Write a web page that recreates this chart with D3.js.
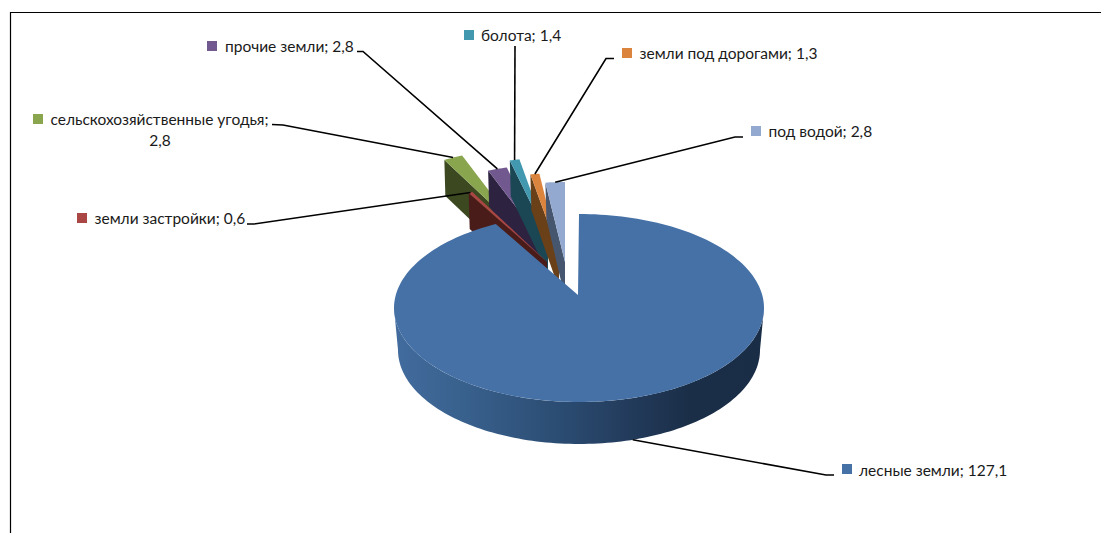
<!DOCTYPE html>
<html><head><meta charset="utf-8">
<script src="https://cdn.jsdelivr.net/npm/d3@7/dist/d3.min.js"></script>
<style>html,body{margin:0;padding:0;background:#fff}svg{display:block}</style>
</head><body><div id="c"></div>
<script>
// ---- data
const categories = ["лесные земли","земли застройки","сельскохозяйственные угодья","прочие земли","болота","земли под дорогами","под водой"];
const values = [127.1,0.6,2.8,2.8,1.4,1.3,2.8];
const colors = ["#4671A7","#AA4643","#89A54E","#71588F","#4198AF","#DB843D","#93A9CF"];
const sideColors = ["#1A2E47","#4A1C19","#3B4820","#2D2340","#1B4653","#6A4019","#46566F"];
// ---- layout
const W=1101,H=533;
const main={cx:579,cy:308,rx:185,ry:94,apexX:578,apexY:295,depth:42,botRx:181,backSquash:0.86,leaderAngle:0.904*Math.PI};
const sliceR={rx:155,ry:80,depth:36};
const pull=[null,[-31,-33],[-59,-65],[-33,-50],[-30,-57],[-19,-42],[-13,-33]];
const labelLayout=[
 {x:859,y:476,sx:842,sy:464,lead:[[834,475],[826,475]]},
 {x:94.5,y:224,sx:77,sy:213,lead:[[247,224],[254,224]]},
 {x:50.5,y:125,sx:33,sy:114,lead:[[272,124.5],[283,125]],wrap:{x:160,y:146}},
 {x:225,y:52,sx:207,sy:41,lead:[[357,51.5],[363,51.5]]},
 {x:481,y:41,sx:464,sy:30,lead:[[515,46]]},
 {x:639.5,y:59,sx:622,sy:48,lead:[[614,58.5],[606,58.5]]},
 {x:768.5,y:137,sx:751,sy:126,lead:[[743,137],[735,137]]}
];
const fontFamily="Lato, 'Noto Sans', sans-serif", fontSize=15.5;

const svg=d3.select("#c").append("svg").attr("width",W).attr("height",H);
svg.append("rect").attr("width",W).attr("height",H).attr("fill","#fff");
svg.append("path").attr("d",`M10.5,533V12.5H${W}`).attr("fill","none").attr("stroke","#000").attr("stroke-width",1.2);

const defs=svg.append("defs");
const grad=defs.append("linearGradient").attr("id","side").attr("gradientUnits","userSpaceOnUse")
  .attr("x1",main.cx-main.rx).attr("x2",main.cx+main.rx).attr("y1",0).attr("y2",0);
[[0,"#426C9E"],[0.2,"#38608C"],[0.45,"#2B4C72"],[0.65,"#223A5A"],[0.8,"#1A2E47"],[1,"#1A2D46"]]
  .forEach(([o,c])=>grad.append("stop").attr("offset",o).attr("stop-color",c));

const arcs=d3.pie().sort(null).value(d=>d)(values);
const line=d3.line();
const pt=(cx,cy,rx,ry,a)=>[cx+rx*Math.sin(a),cy-ry*Math.cos(a)];
const sample=(cx,cy,rx,ry,a0,a1,n=60)=>d3.range(n+1).map(i=>pt(cx,cy,rx,ry,a0+(a1-a0)*i/n));
// the back of the 3D disc is foreshortened, so the angle on the ellipse is squeezed towards the top
const warp=a=>{const p=Math.atan2(main.backSquash*Math.sin(a),Math.cos(a));return p<0?p+2*Math.PI:p;};

const g=svg.append("g");
// small exploded slices, back to front
const geo=arcs.map((a,i)=>{
  if(i===0) return null;
  const ax=main.apexX+pull[i][0], ay=main.apexY+pull[i][1];
  return {ax,ay,a0:a.startAngle,a1:a.endAngle};
});
[2,3,4,1,5,6].forEach(i=>{
  const s=geo[i],d=sliceR.depth;
  const r0=pt(s.ax,s.ay,sliceR.rx,sliceR.ry,s.a0);
  g.append("path").attr("fill",sideColors[i])
    .attr("d",line([r0,[s.ax,s.ay],[s.ax,s.ay+d],[r0[0]+1,r0[1]+d]])+"Z");
  g.append("path").attr("fill",colors[i])
    .attr("d",line([[s.ax,s.ay],...sample(s.ax,s.ay,sliceR.rx,sliceR.ry,s.a0,s.a1,8)])+"Z");
});
// main slice
const m=arcs[0];
const a0=Math.PI/2,a1=Math.PI*1.5;
const topFront=sample(main.cx,main.cy,main.rx,main.ry,a0,a1,120);
const botFront=sample(main.cx,main.cy+main.depth,main.botRx,main.ry,a1,a0,120);
g.append("path").attr("fill","url(#side)").attr("d",line([...topFront,...botFront])+"Z");
g.append("path").attr("fill",colors[0])
  .attr("d",line([[main.apexX,main.apexY],...sample(main.cx,main.cy,main.rx,main.ry,m.startAngle,warp(m.endAngle),200)])+"Z");

// leaders + labels
const fmt=v=>String(v).replace(".",",");
const ends=arcs.map((a,i)=>{
  if(i===0) return pt(main.cx,main.cy+main.depth,main.botRx,main.ry,main.leaderAngle);
  const s=geo[i];return pt(s.ax,s.ay,sliceR.rx,sliceR.ry,(s.a0+s.a1)/2);
});
labelLayout.forEach((l,i)=>{
  svg.append("path").attr("fill","none").attr("stroke","#000").attr("stroke-width",1.6)
    .attr("d",line([...l.lead,ends[i]]));
  svg.append("rect").attr("x",l.sx).attr("y",l.sy).attr("width",10).attr("height",10).attr("fill",colors[i]);
  const t=svg.append("text").attr("x",l.x).attr("y",l.y).attr("fill","#1a1a1a")
    .attr("font-family",fontFamily).attr("font-size",fontSize);
  if(l.wrap){
    t.text(categories[i]+";");
    svg.append("text").attr("x",l.wrap.x).attr("y",l.wrap.y).attr("text-anchor","middle").attr("fill","#1a1a1a")
      .attr("font-family",fontFamily).attr("font-size",fontSize).text(fmt(values[i]));
  } else t.text(categories[i]+"; "+fmt(values[i]));
});
</script></body></html>
